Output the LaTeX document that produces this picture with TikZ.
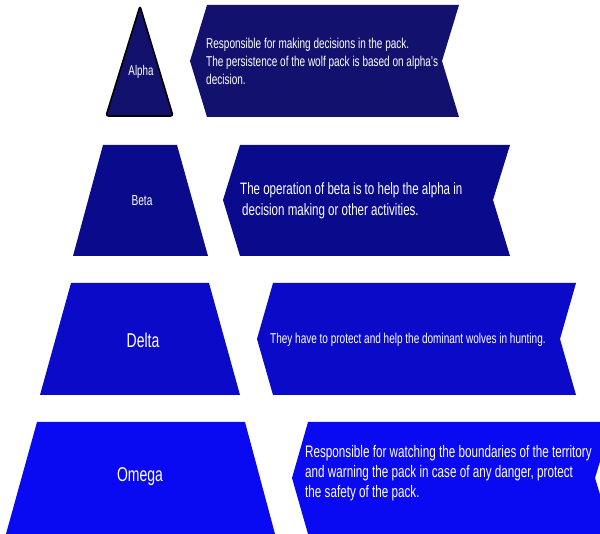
\documentclass[tikz,border=0pt]{standalone}
\usepackage{fontspec}
\setmainfont[FakeStretch=0.7]{Liberation Sans}
\definecolor{calpha}{RGB}{18,18,110}
\definecolor{cbeta}{RGB}{10,10,140}
\definecolor{cdelta}{RGB}{10,10,200}
\definecolor{comega}{RGB}{10,10,242}
\begin{document}
\begin{tikzpicture}[x=1pt,y=-1pt,
  lbl/.style={text=white,inner sep=0pt},
  desc/.style={text=white,align=left,anchor=west,inner sep=0pt}]
\useasboundingbox (0,0) rectangle (600,534);
\fill[white] (0,0) rectangle (600,534);
\clip (0,0) rectangle (600,534);
% Alpha row
\filldraw[fill=calpha,draw=black,line width=1.6pt,rounded corners=2.5pt,line join=round]
  (140,6) -- (173,116) -- (106,116) -- cycle;
\fill[calpha] (207,5) -- (459,5) -- (442,61) -- (459,117) -- (207,117) -- (190,61) -- cycle;
\node[lbl,font=\fontsize{14}{16}\selectfont] (alpha) at (141,72) {Alpha};
\node[desc,font=\fontsize{14.3}{18}\selectfont] (alphatxt) at (206,61)
  {Responsible for making decisions in the pack.\\The persistence of the wolf pack is based on alpha's\\decision.};
% Beta row
\fill[cbeta] (103,145) -- (177,145) -- (208,256) -- (73,256) -- cycle;
\fill[cbeta] (240,145) -- (510,145) -- (493,200) -- (510,256) -- (240,256) -- (223,200) -- cycle;
\node[lbl,font=\fontsize{14.5}{16}\selectfont] (beta) at (142,201) {Beta};
\node[desc,font=\fontsize{16.5}{21}\selectfont] (betatxt) at (240,201)
  {The operation of beta is to help the alpha in\\\hspace{2pt}decision making or other activities.};
% Delta row
\fill[cdelta] (71,283) -- (209,283) -- (240,395) -- (40,395) -- cycle;
\fill[cdelta] (273,283) -- (576,283) -- (560,339) -- (576,395) -- (273,395) -- (257,339) -- cycle;
\node[lbl,font=\fontsize{20}{22}\selectfont] (delta) at (143,340) {Delta};
\node[desc,font=\fontsize{14.3}{18}\selectfont] (deltatxt) at (270,340)
  {They have to protect and help the dominant wolves in hunting.};
% Omega row
\fill[comega] (37,422) -- (245,422) -- (275,534) -- (6,534) -- cycle;
\fill[comega] (308,422) -- (612,422) -- (595,478) -- (612,534) -- (308,534) -- (292,478) -- cycle;
\node[lbl,font=\fontsize{20}{22}\selectfont] (omega) at (140,477) {Omega};
\node[desc,font=\fontsize{16.7}{20}\selectfont] (omegatxt) at (305,473)
  {Responsible for watching the boundaries of the territory\\and warning the pack in case of any danger, protect\\the safety of the pack.};
\end{tikzpicture}
\end{document}
